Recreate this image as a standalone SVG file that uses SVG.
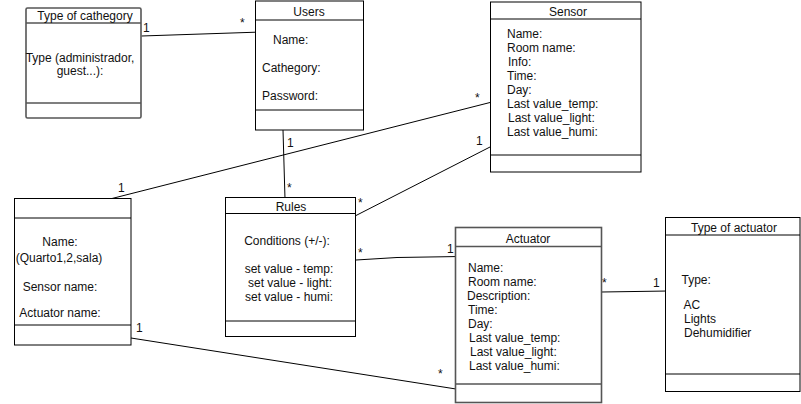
<svg xmlns="http://www.w3.org/2000/svg" width="801" height="404" viewBox="0 0 801 404">
<style>
.box{fill:#fff;stroke:#000;stroke-width:1}
.sep{stroke:#000;stroke-width:1}
.gbox{fill:#fff;stroke:#555;stroke-width:1.6}
.gsep{stroke:#555;stroke-width:1.6}
text{font-family:"Liberation Sans",Arial,sans-serif;font-size:12px;fill:#111}
.c{text-anchor:middle}
.m{font-size:12px}
.con{fill:none;stroke:#000;stroke-width:1}
</style>
<rect width="801" height="404" fill="#fff"/>
<g id="connectors">
<path class="con" d="M141.5,36 L262,32"/>
<path class="con" d="M283,130 L285,199"/>
<path class="con" d="M490,102.5 L110,199"/>
<path class="con" d="M490,147 L356,215.5"/>
<path class="con" d="M356,260 L397,257.5 L460,256.5"/>
<path class="con" d="M131,338 L456,389"/>
<path class="con" d="M601.5,292 L668,291"/>
<text x="143" y="32" class="m">1</text>
<text x="240" y="27" class="m">*</text>
<text x="287" y="147" class="m">1</text>
<text x="287" y="192" class="m">*</text>
<text x="475" y="102" class="m">*</text>
<text x="118" y="192" class="m">1</text>
<text x="476" y="145" class="m">1</text>
<text x="358" y="207" class="m">*</text>
<text x="358" y="257" class="m">*</text>
<text x="447" y="253" class="m">1</text>
<text x="136" y="332" class="m">1</text>
<text x="438" y="378" class="m">*</text>
<text x="602" y="287" class="m">*</text>
<text x="653" y="287" class="m">1</text>
</g>
<g id="type-of-cathegory">
<rect class="gbox" x="26" y="8" width="115" height="110" rx="1.5"/>
<line class="gsep" x1="26" y1="23" x2="141" y2="23"/>
<line class="gsep" x1="26" y1="103" x2="141" y2="103"/>
<text x="85" y="20" class="c">Type of cathegory</text>
<text x="80" y="61.5" class="c">Type (administrador,</text>
<text x="80" y="74.5" class="c">guest...):</text>
</g>
<g id="users">
<rect class="box" x="255.5" y="1" width="108" height="129"/>
<line class="sep" x1="255.5" y1="20" x2="363.5" y2="20"/>
<line class="sep" x1="255.5" y1="110" x2="363.5" y2="110"/>
<text x="309" y="15.5" class="c">Users</text>
<text x="273" y="44">Name:</text>
<text x="262" y="72">Cathegory:</text>
<text x="262" y="100">Password:</text>
</g>
<g id="sensor">
<rect class="box" x="490.5" y="2" width="150.5" height="170"/>
<line class="sep" x1="490.5" y1="19" x2="641" y2="19"/>
<line class="sep" x1="490.5" y1="155" x2="641" y2="155"/>
<text x="568" y="16" class="c">Sensor</text>
<text x="507" y="37.5">Name:</text>
<text x="507" y="51.5">Room name:</text>
<text x="508" y="65.5">Info:</text>
<text x="507" y="79.5">Time:</text>
<text x="507" y="93.5">Day:</text>
<text x="507" y="107.5">Last value_temp:</text>
<text x="508" y="121.5">Last value_light:</text>
<text x="507" y="135.5">Last value_humi:</text>
</g>
<g id="room">
<rect class="box" x="14.5" y="198.5" width="116.5" height="146.5"/>
<line class="sep" x1="14.5" y1="218" x2="131" y2="218"/>
<line class="sep" x1="14.5" y1="325" x2="131" y2="325"/>
<text x="60" y="246" class="c">Name:</text>
<text x="59" y="262" class="c">(Quarto1,2,sala)</text>
<text x="60" y="291" class="c">Sensor name:</text>
<text x="60" y="317" class="c">Actuator name:</text>
</g>
<g id="rules">
<rect class="box" x="225.5" y="197.5" width="130" height="139"/>
<line class="sep" x1="225.5" y1="213.5" x2="355.5" y2="213.5"/>
<line class="sep" x1="225.5" y1="321" x2="355.5" y2="321"/>
<text x="291" y="211" class="c">Rules</text>
<text x="287" y="245" class="c">Conditions (+/-):</text>
<text x="289" y="272.5" class="c">set value - temp:</text>
<text x="290" y="286.5" class="c">set value - light:</text>
<text x="289" y="300.5" class="c">set value - humi:</text>
</g>
<g id="actuator">
<rect class="gbox" x="455.5" y="227.5" width="146" height="175"/>
<line class="gsep" x1="455.5" y1="246.5" x2="601.5" y2="246.5"/>
<line class="gsep" x1="455.5" y1="384" x2="601.5" y2="384"/>
<text x="528" y="243" class="c">Actuator</text>
<text x="468" y="271.5">Name:</text>
<text x="468" y="285.5">Room name:</text>
<text x="467" y="299.5">Description:</text>
<text x="468" y="313.5">Time:</text>
<text x="468" y="327.5">Day:</text>
<text x="469" y="341.5">Last value_temp:</text>
<text x="470" y="355.5">Last value_light:</text>
<text x="469" y="369.5">Last value_humi:</text>
</g>
<g id="type-of-actuator">
<rect class="box" x="665.5" y="217.5" width="134.5" height="174"/>
<line class="sep" x1="665.5" y1="235" x2="800" y2="235"/>
<line class="sep" x1="665.5" y1="374" x2="800" y2="374"/>
<text x="734" y="232" class="c">Type of actuator</text>
<text x="681.5" y="283.5">Type:</text>
<text x="683.5" y="309">AC</text>
<text x="684" y="323">Lights</text>
<text x="684" y="337">Dehumidifier</text>
</g>
</svg>
